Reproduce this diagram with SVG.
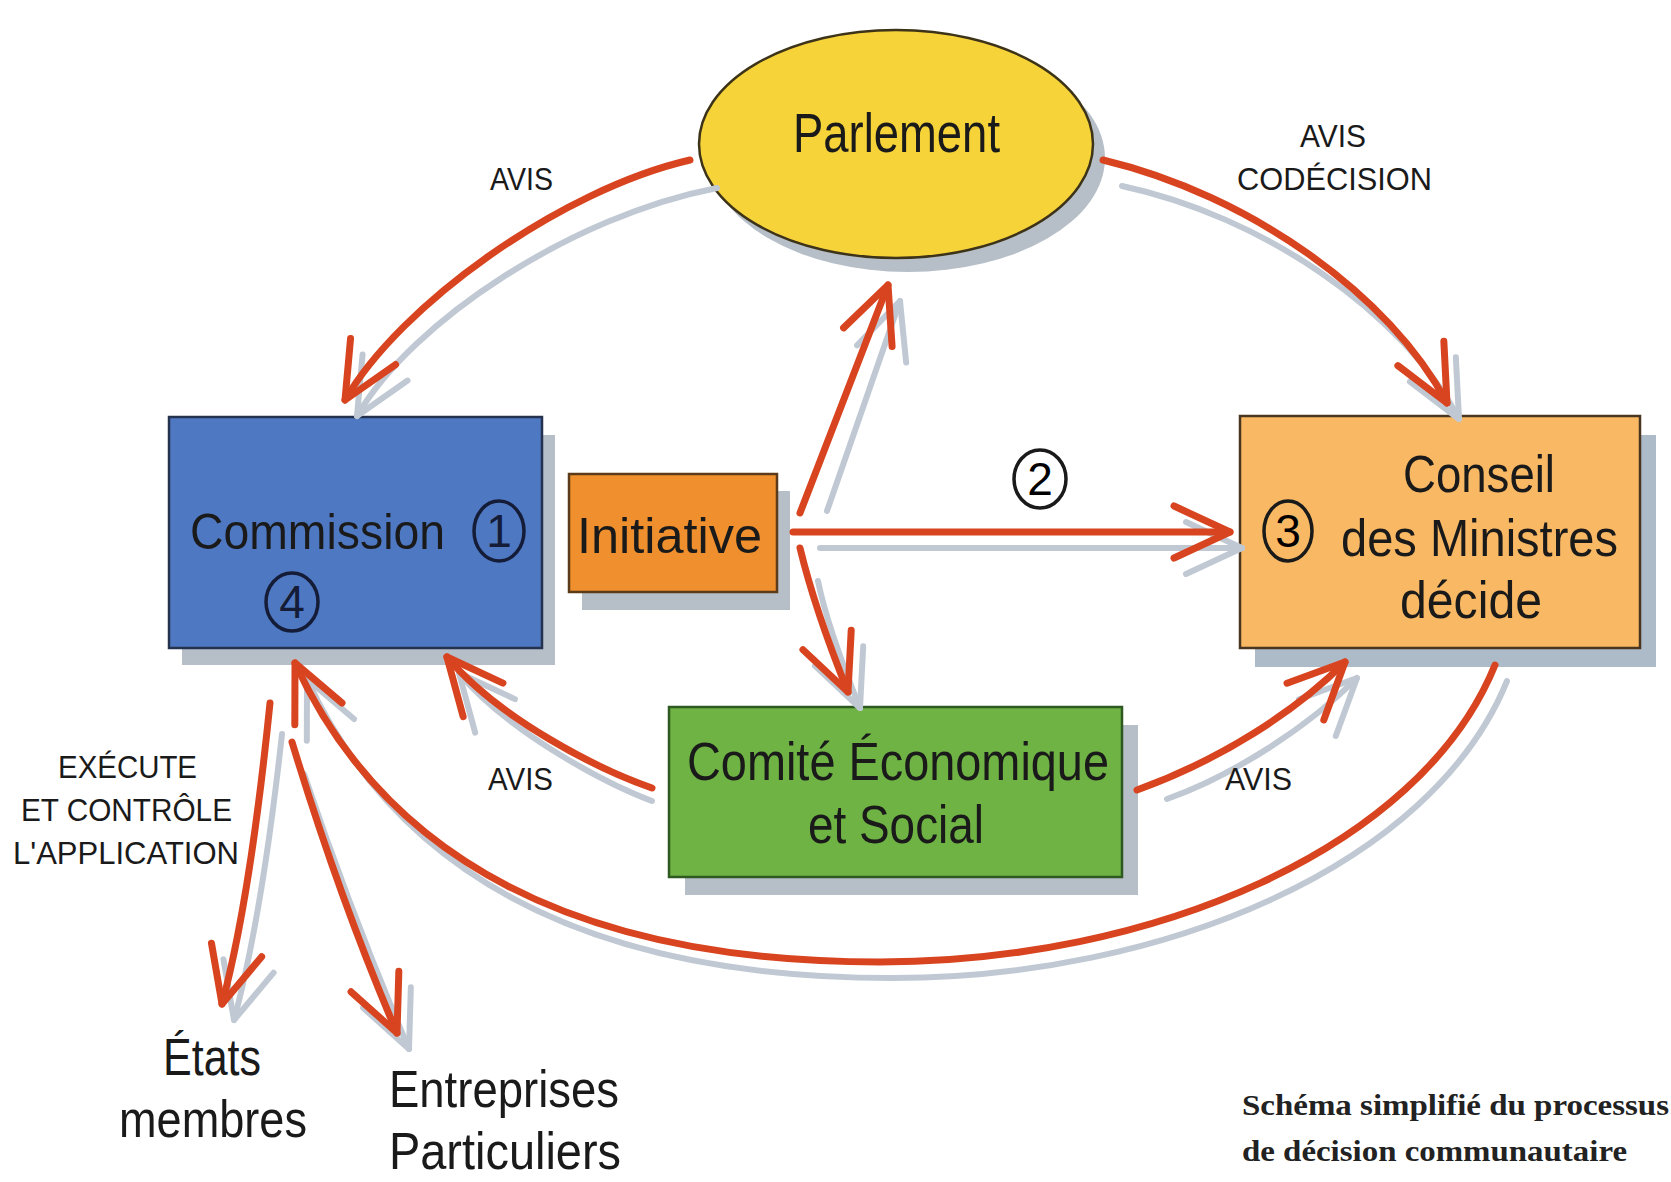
<svg xmlns="http://www.w3.org/2000/svg" width="1671" height="1182" viewBox="0 0 1671 1182">
<style>
.lbl{font-family:"Liberation Sans Narrow","Liberation Sans",Arial,sans-serif;fill:#1a1a1a}
.big{font-size:54px}
.mid{font-size:52px}
.sm{font-size:32px}
.cap{font-family:"Liberation Serif","Times New Roman",serif;font-weight:bold;font-size:29px;fill:#222}
.shadow{fill:#b6bec8}
.arrow{fill:none;stroke:#d8441f;stroke-width:7;stroke-linecap:round;marker-end:url(#ah)}
.ashadow{fill:none;stroke:#c0c9d3;stroke-width:6;stroke-linecap:round;marker-end:url(#ahs)}
.num{fill:none;stroke-width:3.5}
.digit{font-family:"Liberation Sans",Arial,sans-serif;font-size:46px;text-anchor:middle}
</style>
<defs>
<marker id="ah" viewBox="-70 -40 80 80" refX="0" refY="0" markerWidth="80" markerHeight="80" markerUnits="userSpaceOnUse" orient="auto">
<path d="M-56,-26 L0,0 L-56,26" fill="none" stroke="#d8441f" stroke-width="7" stroke-linecap="round" stroke-linejoin="round"/>
</marker>
<marker id="ahs" viewBox="-70 -40 80 80" refX="0" refY="0" markerWidth="80" markerHeight="80" markerUnits="userSpaceOnUse" orient="auto">
<path d="M-56,-26 L0,0 L-56,26" fill="none" stroke="#c0c9d3" stroke-width="6" stroke-linecap="round" stroke-linejoin="round"/>
</marker>
</defs>
<rect width="1671" height="1182" fill="#ffffff"/>

<g id="node-parlement">
<ellipse cx="908" cy="158" rx="197" ry="114" class="shadow"/>
<ellipse cx="896" cy="144" rx="197" ry="114" fill="#f7d33a" stroke="#3d3318" stroke-width="2.5"/>
<text class="lbl" style="font-size:56px" x="793" y="152" textLength="207" lengthAdjust="spacingAndGlyphs">Parlement</text>
</g>

<g id="node-commission">
<rect x="182" y="435" width="373" height="230" class="shadow"/>
<rect x="169" y="417" width="373" height="231" fill="#4f78c2" stroke="#24324f" stroke-width="2.5"/>
<text class="lbl" style="font-size:50px" x="190" y="549" textLength="255" lengthAdjust="spacingAndGlyphs" fill="#141c38">Commission</text>
<ellipse cx="499" cy="531" rx="25" ry="30" class="num" stroke="#141c38"/>
<text class="digit" x="499" y="547" fill="#141c38">1</text>
<ellipse cx="292" cy="602" rx="26" ry="29" class="num" stroke="#141c38"/>
<text class="digit" x="292" y="618" fill="#141c38">4</text>
</g>

<g id="node-initiative">
<rect x="582" y="491" width="208" height="119" class="shadow"/>
<rect x="569" y="474" width="208" height="118" fill="#ef8f2d" stroke="#5b3b1a" stroke-width="2.5"/>
<text class="lbl" style="font-size:50px" x="577" y="553" textLength="185" lengthAdjust="spacingAndGlyphs">Initiative</text>
</g>

<g id="node-conseil">
<rect x="1255" y="435" width="401" height="232" fill="#adbac8"/>
<rect x="1240" y="416" width="400" height="232" fill="#f9b864" stroke="#4a3520" stroke-width="2.5"/>
<text class="lbl mid" x="1403" y="492" textLength="152" lengthAdjust="spacingAndGlyphs">Conseil</text>
<ellipse cx="1288" cy="531" rx="24" ry="30" class="num" stroke="#1a1a1a"/>
<text class="digit" x="1288" y="547">3</text>
<text class="lbl mid" x="1341" y="556" textLength="277" lengthAdjust="spacingAndGlyphs">des Ministres</text>
<text class="lbl mid" x="1400" y="618" textLength="142" lengthAdjust="spacingAndGlyphs">décide</text>
</g>

<g id="node-comite">
<rect x="685" y="725" width="453" height="170" class="shadow"/>
<rect x="669" y="707" width="453" height="170" fill="#6fb344" stroke="#2e5a22" stroke-width="2.5"/>
<text class="lbl big" x="687" y="780" textLength="422" lengthAdjust="spacingAndGlyphs" fill="#0f2a10">Comité Économique</text>
<text class="lbl big" x="808" y="843" textLength="176" lengthAdjust="spacingAndGlyphs" fill="#0f2a10">et Social</text>
</g>

<g id="node-etats">
<text class="lbl mid" x="163" y="1075" textLength="98" lengthAdjust="spacingAndGlyphs">États</text>
<text class="lbl mid" x="119" y="1137" textLength="188" lengthAdjust="spacingAndGlyphs">membres</text>
</g>

<g id="node-entreprises">
<text class="lbl mid" x="389" y="1107" textLength="230" lengthAdjust="spacingAndGlyphs">Entreprises</text>
<text class="lbl mid" x="389" y="1169" textLength="232" lengthAdjust="spacingAndGlyphs">Particuliers</text>
</g>

<g id="connectors">
<g id="connector-shadows" transform="translate(12,16)">
<path class="ashadow" d="M705,172 C560,200 400,305 345,400"/>
<path class="ashadow" d="M1110,170 C1250,200 1390,295 1447,403"/>
<path class="ashadow" d="M815,495 L888,285"/>
<path class="ashadow" d="M808,532 L1230,532"/>
<path class="ashadow" d="M806,565 Q815,610 848,692"/>
<path class="ashadow" d="M640,785 C600,770 500,720 447,657"/>
<path class="ashadow" d="M1155,783 C1220,760 1295,712 1345,662"/>
<path class="ashadow" d="M1495,665 C1420,850 1150,962 880,962 C610,962 395,880 295,663"/>
<path class="ashadow" d="M270,718 Q250,900 222,1004"/>
<path class="ashadow" d="M292,758 Q340,900 397,1033"/>
</g>
<path id="c-parl-comm" class="arrow" d="M690,160 C560,190 400,305 345,400"/>
<path id="c-parl-cons" class="arrow" d="M1103,160 C1250,195 1390,295 1447,403"/>
<path id="c-init-parl" class="arrow" d="M800,513 L888,285"/>
<path id="c-init-cons" class="arrow" d="M793,532 L1230,532"/>
<path id="c-init-comite" class="arrow" d="M800,548 Q815,610 848,692"/>
<path id="c-comite-comm" class="arrow" d="M652,788 C600,770 500,720 447,657"/>
<path id="c-comite-cons" class="arrow" d="M1137,790 C1220,760 1295,712 1345,662"/>
<path id="c-cons-comm" class="arrow" d="M1495,665 C1420,850 1150,962 880,962 C610,962 395,880 295,663"/>
<path id="c-comm-etats" class="arrow" d="M270,703 Q250,900 222,1004"/>
<path id="c-comm-entr" class="arrow" d="M292,742 Q340,900 397,1033"/>
<ellipse cx="1040" cy="479" rx="26" ry="29" class="num" stroke="#1a1a1a"/>
<text class="digit" x="1040" y="495">2</text>
</g>

<g id="labels">
<text class="lbl sm" x="490" y="190" textLength="63" lengthAdjust="spacingAndGlyphs">AVIS</text>
<text class="lbl sm" x="1300" y="147" textLength="66" lengthAdjust="spacingAndGlyphs">AVIS</text>
<text class="lbl sm" x="1237" y="190" textLength="195" lengthAdjust="spacingAndGlyphs">CODÉCISION</text>
<text class="lbl sm" x="488" y="790" textLength="65" lengthAdjust="spacingAndGlyphs">AVIS</text>
<text class="lbl sm" x="1225" y="790" textLength="67" lengthAdjust="spacingAndGlyphs">AVIS</text>
<text class="lbl sm" x="58" y="778" textLength="139" lengthAdjust="spacingAndGlyphs">EXÉCUTE</text>
<text class="lbl sm" x="21" y="821" textLength="211" lengthAdjust="spacingAndGlyphs">ET CONTRÔLE</text>
<text class="lbl sm" x="13" y="864" textLength="226" lengthAdjust="spacingAndGlyphs">L'APPLICATION</text>
<text class="cap" x="1242" y="1115" textLength="427" lengthAdjust="spacingAndGlyphs">Schéma simplifié du processus</text>
<text class="cap" x="1242" y="1161" textLength="385" lengthAdjust="spacingAndGlyphs">de décision communautaire</text>
</g>
</svg>
